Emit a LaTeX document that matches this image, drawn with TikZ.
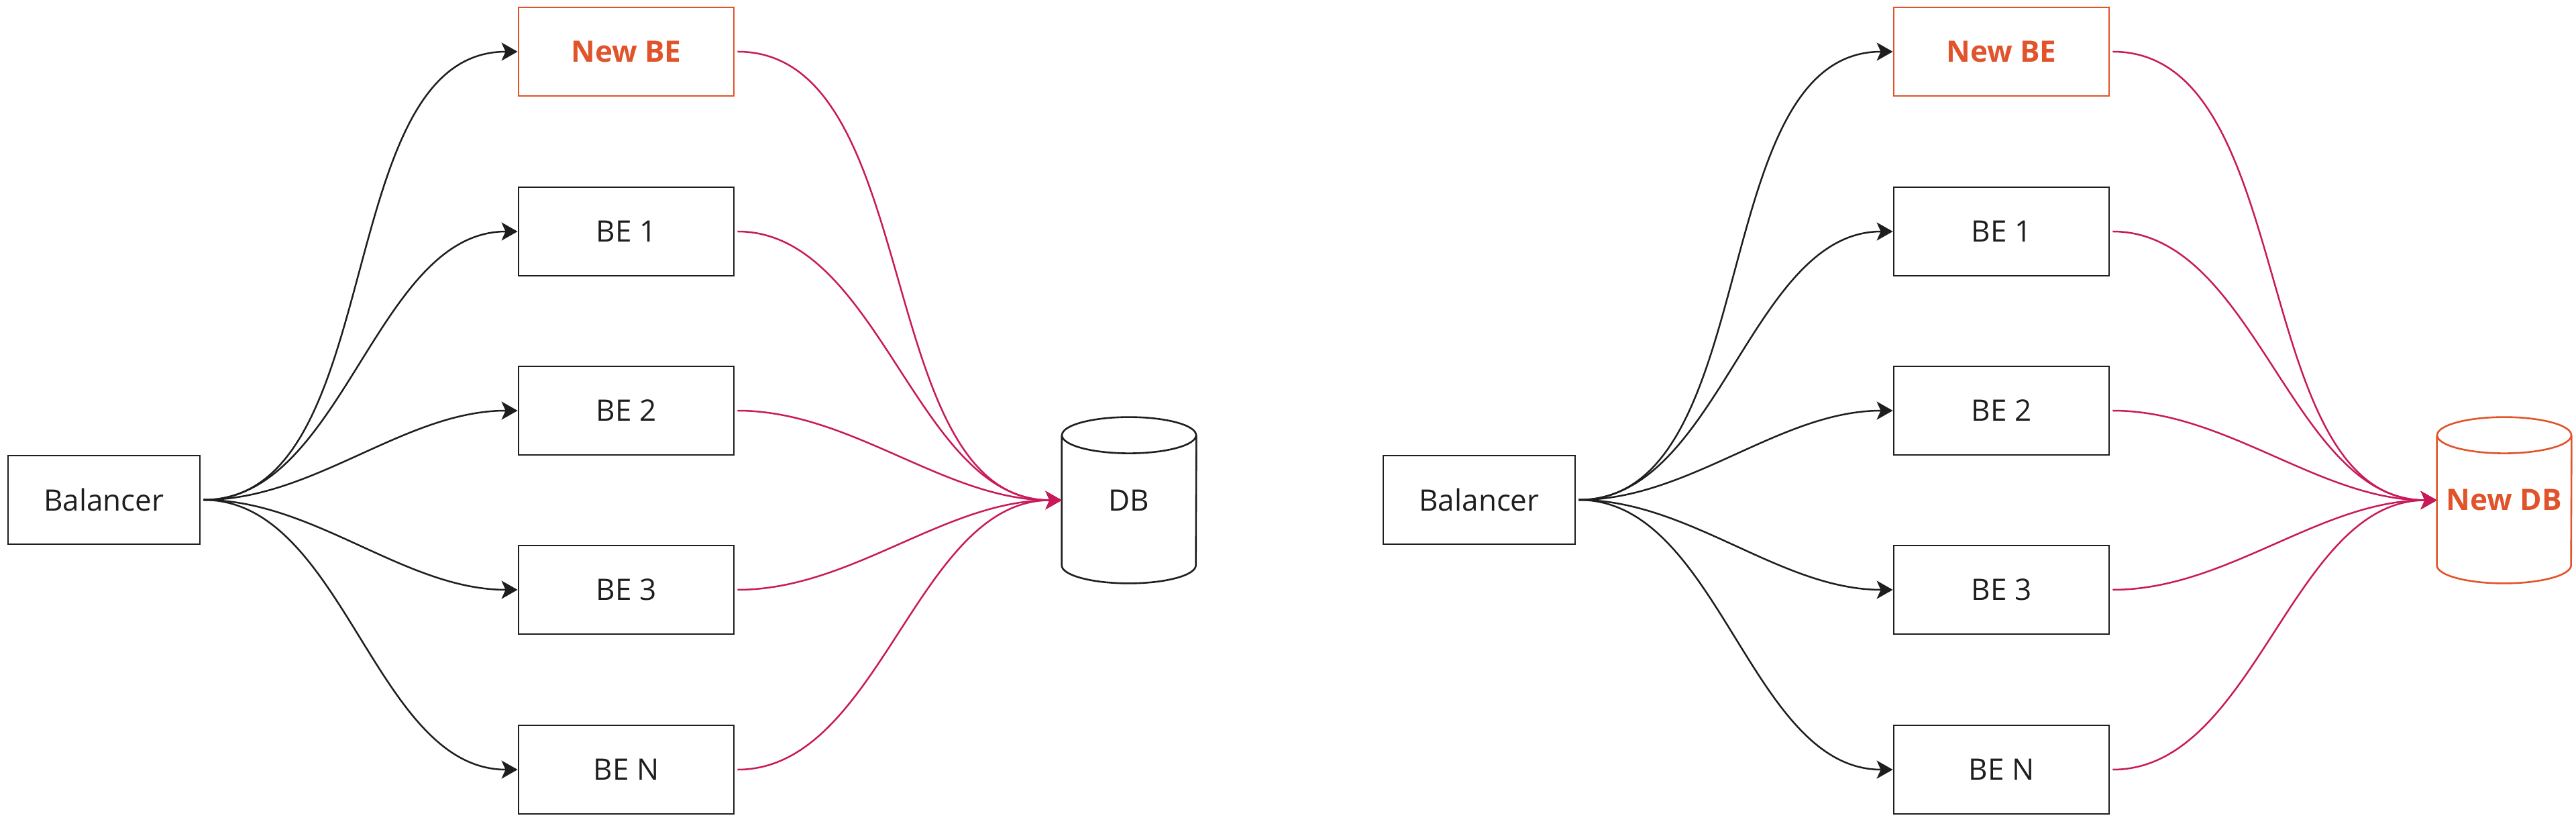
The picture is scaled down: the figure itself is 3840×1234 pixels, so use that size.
\documentclass[tikz,border=0pt]{standalone}
\usepackage{fontspec}
\setmainfont{Open Sans}
\usetikzlibrary{arrows.meta,calc}
\definecolor{ink}{HTML}{1E1E1E}
\definecolor{newc}{HTML}{E0532B}
\definecolor{flow}{HTML}{C81A5A}
\tikzset{
  lbl/.style={font=\fontsize{22}{26}\selectfont},
  box/.style={draw=ink, line width=1.4pt, minimum width=160.5pt, minimum height=66pt, inner sep=0pt, lbl, text=ink},
  newbox/.style={box, draw=newc, text=newc, font=\fontsize{22}{26}\selectfont\bfseries},
  dbnode/.style={minimum width=100pt, minimum height=123.5pt, inner sep=0pt, lbl, text=ink},
  newdb/.style={dbnode, text=newc, font=\fontsize{22}{26}\selectfont\bfseries},
  cyl/.style={line width=1.3pt},
  curvy/.style={out=0, in=180, looseness=0.88},
  req/.style={draw=ink, line width=1.25pt, shorten <=2pt, -{Stealth[length=12pt,width=13.5pt,inset=3pt]}},
  wr/.style={draw=flow, line width=1.25pt, shorten <=2pt, -{Stealth[length=12pt,width=13.5pt,inset=3pt]}}
}
\begin{document}
\begin{tikzpicture}[x=0.5pt,y=-0.5pt]
\useasboundingbox (0,0) rectangle (3840,1234);
% ---------- left panel ----------
\node[box, minimum width=143pt] (balL) at (155,745) {Balancer};
\node[newbox] (nbL) at (933.5,77) {New BE};
\node[box] (b1L) at (933.5,345) {BE 1};
\node[box] (b2L) at (933.5,612) {BE 2};
\node[box] (b3L) at (933.5,879) {BE 3};
\node[box] (bnL) at (933.5,1147) {BE N};
\node[dbnode] (dbL) at (1683,745.5) {DB};
\draw[cyl,draw=ink] ($(dbL.north)+(0,27)$) ellipse [x radius=50pt, y radius=13.5pt];
\draw[cyl,draw=ink] ($(dbL.north west)+(0,27)$) -- ($(dbL.south west)+(0,-27)$)
  arc[start angle=180, end angle=360, x radius=50pt, y radius=13.5pt]
  -- ($(dbL.north east)+(0,27)$);
\foreach \t in {nbL,b1L,b2L,b3L,bnL}{
  \draw[req] (balL.east) to[curvy] (\t.west);
  \draw[wr] (\t.east) to[curvy] (dbL.west);
}
% ---------- right panel ----------
\node[box, minimum width=143pt] (balR) at (2205,745) {Balancer};
\node[newbox] (nbR) at (2983.5,77) {New BE};
\node[box] (b1R) at (2983.5,345) {BE 1};
\node[box] (b2R) at (2983.5,612) {BE 2};
\node[box] (b3R) at (2983.5,879) {BE 3};
\node[box] (bnR) at (2983.5,1147) {BE N};
\node[newdb] (dbR) at (3733,745.5) {New DB};
\draw[cyl,draw=newc] ($(dbR.north)+(0,27)$) ellipse [x radius=50pt, y radius=13.5pt];
\draw[cyl,draw=newc] ($(dbR.north west)+(0,27)$) -- ($(dbR.south west)+(0,-27)$)
  arc[start angle=180, end angle=360, x radius=50pt, y radius=13.5pt]
  -- ($(dbR.north east)+(0,27)$);
\foreach \t in {nbR,b1R,b2R,b3R,bnR}{
  \draw[req] (balR.east) to[curvy] (\t.west);
  \draw[wr] (\t.east) to[curvy] (dbR.west);
}
\end{tikzpicture}
\end{document}
